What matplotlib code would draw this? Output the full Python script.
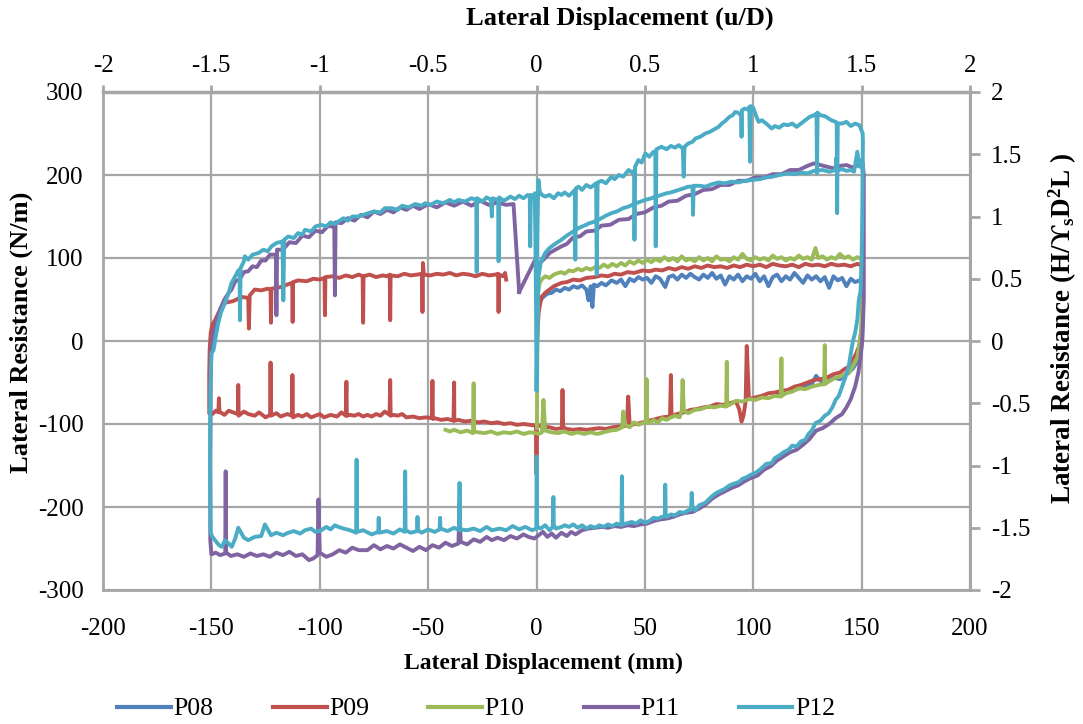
import numpy as np
import matplotlib
matplotlib.use("Agg")
import matplotlib.pyplot as plt
from matplotlib.lines import Line2D
from matplotlib.ticker import FuncFormatter

plt.rcParams['font.family'] = ['Liberation Serif', 'DejaVu Serif']
plt.rcParams['axes.unicode_minus'] = False
plt.rcParams['mathtext.fontset'] = 'custom'
plt.rcParams['mathtext.rm'] = 'Liberation Serif:bold'
plt.rcParams['mathtext.it'] = 'Liberation Serif:bold'

# (displacement mm, resistance N/m), branch by branch
p08_load = [(0.2, 0), (0.5, 30), (1, 42), (2, 50), (3.5, 54), (5, 57), (7, 58), (9, 62), (11, 60), (13, 64),
            (15, 62), (17, 66), (19, 64), (21, 67), (23, 62), (24, 49), (25, 66), (25.8, 41), (26.5, 68),
            (28, 66), (30, 70), (32, 67), (34.6, 73), (37, 70), (39, 74), (41, 66), (43, 75), (45, 72),
            (47, 77), (49, 74), (51, 76), (53, 70), (55, 78), (57, 75), (59.4, 65), (61, 77), (63, 79),
            (65, 74), (67, 80), (69, 76), (71, 81), (73, 77), (75, 74), (77, 80), (79, 76), (81, 82),
            (83, 75), (85, 79), (87, 68), (89, 78), (91, 74), (93, 80), (95, 72), (97, 78), (99, 75),
            (101, 81), (103, 72), (105, 78), (107, 66), (109, 77), (111, 80), (113, 72), (115, 78),
            (117, 74), (119, 82), (121, 76), (123, 70), (125, 79), (127, 74), (129, 78), (131, 72),
            (133, 77), (135, 64), (137, 78), (139, 73), (141, 76), (143, 66), (145, 75), (147, 71),
            (149, 73), (150, 70)]
p08_unload = [(150.5, 40), (150.3, 0), (149.5, -15), (148, -25), (146, -33), (144, -38), (142, -42),
              (140, -46), (137, -44), (134, -50), (131, -48), (129, -42), (127, -52), (124, -55),
              (120, -58), (115, -62), (110, -64)]

p09_load = [(0.3, 0), (1, 35), (2.3, 53), (4, 58), (5.5, 61), (8, 66), (11.5, 70), (14, 71), (17, 74),
            (20, 73), (23, 76), (27, 77), (30, 79), (33, 78), (36, 81), (39, 80), (42, 83), (45, 82),
            (49, 85), (52, 84), (55, 86), (58, 85), (61, 88), (64, 86), (67, 89), (70, 87), (73, 90),
            (76, 88), (79, 91), (82, 89), (85, 90), (88, 88), (91, 91), (94, 89), (97, 92), (100, 90),
            (103, 92), (106, 89), (109, 93), (112, 91), (115, 90), (118, 92), (121, 89), (124, 93),
            (127, 91), (130, 92), (133, 90), (136, 93), (139, 91), (142, 92), (145, 90), (148, 93),
            (150, 91)]
p09_unload = [(150.6, 60), (150.2, 20), (149, -5), (147.5, -15), (146, -22), (144, -31), (142, -34),
              (140, -38), (137, -40), (134, -44), (131, -46), (128, -47), (125, -50), (122, -53),
              (119, -55), (116, -59), (113, -60), (110, -62), (107, -63), (104, -66), (101, -68),
              (98, -70), (97, -6), (96.5, -72), (95.5, -90), (94.6, -97), (93.5, -82), (92, -73),
              (89, -75), (86, -77), (83, -76), (80, -79), (77, -80), (74, -82), (71, -83), (68, -86),
              (65, -88), (62.3, -90), (62, -41), (61.6, -91), (58, -92), (55, -94), (52, -96),
              (49, -98), (46, -100), (43, -101), (42.3, -67), (41.7, -102), (38, -103), (35, -104),
              (32, -106), (29, -105), (26, -106), (23, -107), (20, -106), (17, -107), (14, -106),
              (12.3, -104), (12, -59), (11.7, -105), (9, -106), (6, -104), (3, -103), (1, -102),
              (0.3, -101), (0, -160), (-0.3, -102), (-3, -101), (-6, -100), (-9, -101), (-12, -99),
              (-15, -100), (-18, -98), (-21, -99), (-24, -97), (-27, -98), (-30, -96), (-33, -97),
              (-36, -95), (-37.9, -96), (-38, -50), (-38.3, -96), (-41, -94), (-44, -95), (-47, -93),
              (-47.8, -94), (-48, -48), (-48.3, -93), (-51, -92), (-54, -93), (-57, -91), (-60, -92),
              (-62, -88), (-64, -90), (-66, -89), (-67.3, -90), (-67.5, -47), (-67.8, -89), (-70, -85),
              (-72, -90), (-74, -88), (-76, -91), (-78, -89), (-80, -91), (-82, -88), (-84, -90),
              (-86, -89), (-87.5, -90), (-87.7, -49), (-88, -90), (-90, -86), (-92, -91), (-95, -89),
              (-98, -92), (-100, -88), (-102, -90), (-104, -92), (-106, -88), (-108, -91), (-110, -89),
              (-112.4, -92), (-112.6, -41), (-112.8, -90), (-115, -88), (-118, -91), (-120, -87),
              (-122.5, -90), (-122.7, -26), (-122.9, -89), (-125, -92), (-128, -86), (-130, -90),
              (-133, -88), (-135, -85), (-137.4, -90), (-137.6, -53), (-137.8, -88), (-140, -86),
              (-142, -84), (-144, -89), (-146.3, -85), (-146.5, -69), (-146.8, -86), (-148, -84),
              (-149.5, -88), (-151, -87)]
p09_reload = [(-151, -40), (-150.8, -11), (-150.3, 10), (-149.5, 20), (-148.3, 25), (-146.5, 35),
              (-145.4, 40), (-144, 46), (-140, 48), (-136, 53), (-133, 52), (-132.7, 15), (-132.3, 55),
              (-130, 62), (-127, 61), (-124, 63), (-122.7, 62), (-122.5, 22), (-122.3, 63), (-120, 64),
              (-118, 65), (-115, 68), (-112.7, 70), (-112.5, 23), (-112.3, 71), (-110, 73), (-106, 72),
              (-103, 75), (-100, 74), (-97.8, 76), (-97.6, 31), (-97.4, 77), (-94, 78), (-91, 76),
              (-88, 79), (-85, 77), (-82, 80), (-80.2, 78), (-80, 22), (-79.8, 78), (-77, 80), (-74, 77),
              (-71, 79), (-69, 78), (-67.7, 80), (-67.5, 25), (-67.3, 79), (-64, 78), (-61, 81),
              (-58, 79), (-55, 80), (-52.8, 81), (-52.6, 35), (-52.4, 94), (-52, 80), (-49, 79),
              (-46, 81), (-43, 80), (-40, 82), (-37, 79), (-34, 81), (-31, 80), (-28, 78), (-25, 81),
              (-22, 79), (-19, 80), (-17.7, 81), (-17.5, 35), (-17.3, 80), (-15.5, 78), (-14.5, 82),
              (-14, 74)]

p10_load = [(0.2, -105), (0.3, -40), (0.5, 20), (0.8, 60), (1.5, 70), (2.3, 74), (4, 78), (6, 76),
            (8, 80), (10, 82), (11.5, 83), (13, 81), (15, 85), (17, 84), (19, 87), (21, 85), (23, 88),
            (25, 86), (27, 89), (29, 88), (31, 92), (33, 89), (35, 93), (37, 90), (39, 94), (41, 91),
            (43, 96), (45, 93), (47, 97), (49, 94), (51, 98), (53, 95), (55, 99), (57, 96), (59, 101),
            (61, 97), (63, 100), (65, 96), (67, 102), (69, 97), (71, 99), (73, 96), (75, 101), (77, 97),
            (79, 100), (81, 96), (83, 102), (85, 98), (87, 99), (89, 96), (91, 101), (93, 98),
            (95, 105), (97, 99), (99, 97), (101, 101), (103, 98), (105, 100), (107, 97), (109, 103),
            (111, 99), (113, 101), (115, 97), (117, 100), (119, 98), (121, 103), (123, 99), (125, 101),
            (127, 98), (128.7, 112), (130, 100), (132, 102), (134, 98), (136, 101), (138, 99),
            (140, 105), (142, 100), (144, 102), (146, 98), (148, 101), (150, 99)]
p10_unload = [(150.5, 80), (150.3, 40), (149.5, 5), (148, -20), (146, -30), (144, -39), (142, -40),
              (140, -43), (138, -44), (136, -47), (134, -50), (133.2, -52), (133, -5), (132.7, -52),
              (130, -53), (127, -55), (124, -58), (121, -57), (118, -61), (115, -63), (113.2, -66),
              (113, -21), (112.7, -67), (110, -66), (107, -69), (104, -68), (101, -71), (98, -70),
              (95, -73), (92, -72), (89, -77), (88, -78), (87.8, -25), (87.5, -79), (85, -78), (82, -80),
              (79, -79), (76, -82), (73, -83), (70, -87), (68, -84), (67.4, -47), (67, -85), (66, -92),
              (64, -90), (62, -92), (60, -95), (58, -93), (56, -98), (54, -95), (52, -99), (51, -96),
              (50.8, -46), (50.5, -97), (49, -99), (47, -101), (45, -98), (43, -104), (41, -101),
              (40, -85), (39.5, -104), (37, -107), (34, -108), (31, -110), (28, -112), (25, -110),
              (22, -112), (19, -110), (16, -112), (13, -109), (10, -111), (7, -110), (4, -108),
              (3.2, -71), (2.5, -110), (1, -112), (0, -111), (-3, -110), (-6, -112), (-9, -109),
              (-12, -111), (-15, -110), (-18, -112), (-21, -109), (-24, -111), (-27, -110),
              (-28.8, -109), (-29, -51), (-29.3, -111), (-32, -108), (-35, -110), (-38, -107),
              (-40, -109), (-42, -107)]

p11_load = [(-8, 59), (-4, 80), (-0.6, 98), (1, 92), (2, 95), (4, 100), (6, 106), (8, 109), (11.5, 114),
            (14, 117), (17, 125), (20, 126), (23, 132), (27, 133), (30, 139), (34, 140), (38, 146),
            (42.5, 147), (46, 153), (50, 155), (54, 161), (57.7, 163), (61, 168), (65, 169), (69, 175),
            (73, 177), (77, 182), (81, 183), (85, 188), (89, 188), (93, 193), (97, 193), (101, 197),
            (105, 197), (109, 201), (113, 201), (117, 206), (121, 206), (125, 211), (128, 214),
            (131, 212), (134, 210), (137, 208), (140, 211), (143, 212), (146, 209), (149, 213),
            (150.5, 215)]
p11_unload = [(151, 200), (151, 100), (151, 50), (150.6, 20), (150.2, 0), (149.5, -20), (148.5, -38),
              (147, -55), (145, -70), (143, -80), (141, -88), (138, -93), (135, -100), (132, -105),
              (129, -108), (126, -118), (123, -125), (120, -131), (117, -134), (114, -139), (111, -144),
              (108, -151), (105, -155), (102, -162), (99, -165), (96, -169), (93, -174), (90, -177),
              (87, -181), (84, -185), (81, -190), (78, -197), (75, -202), (72, -206), (69, -207),
              (66, -209), (63, -212), (60, -214), (57, -215), (54, -217), (51, -220), (48, -221),
              (45, -223), (42, -222), (39, -224), (36, -223), (33, -225), (30, -224), (27, -225),
              (24, -226), (21, -228), (18, -233), (16, -230), (14, -235), (11.5, -231), (9, -237),
              (7, -232), (5, -236), (3, -230), (1, -234), (-1, -238), (-3.7, -236), (-6, -233),
              (-9, -238), (-12, -235), (-15, -240), (-18, -237), (-20.6, -240), (-23, -236),
              (-26, -242), (-29, -239), (-32, -245), (-35, -242), (-35.5, -195), (-36, -244),
              (-39, -247), (-42, -243), (-45, -249), (-48, -246), (-51, -252), (-54, -248), (-57, -253),
              (-60, -249), (-63, -245), (-66, -250), (-69, -247), (-72, -251), (-75, -246), (-78, -252),
              (-82, -252), (-85, -249), (-88, -255), (-91, -252), (-94, -257), (-97, -260),
              (-100, -255), (-100.6, -191), (-101, -258), (-103, -262), (-105, -264), (-108, -257),
              (-111, -259), (-114, -254), (-117, -258), (-120, -255), (-123, -260), (-126, -257),
              (-129, -259), (-132, -256), (-135, -260), (-138, -257), (-141, -259), (-143.2, -255),
              (-143.4, -157), (-143.6, -256), (-146, -258), (-148, -255), (-150, -257), (-150.5, -240)]
p11_reload = [(-150.5, -150), (-150.3, -50), (-150, -10), (-149, 10), (-147.5, 25), (-146, 38),
              (-144, 50), (-142, 58), (-140.7, 62), (-139, 72), (-137, 74), (-135, 83), (-133, 84),
              (-131, 90), (-129, 89), (-127, 97), (-125, 97), (-123, 104), (-120.2, 104), (-120, 31),
              (-119.7, 110), (-117, 110), (-114, 119), (-111, 118), (-108, 127), (-105, 125),
              (-102, 133), (-99, 131), (-96, 139), (-93.3, 137), (-93, 55), (-92.7, 143), (-90, 142),
              (-87, 148), (-84, 145), (-81, 152), (-78, 149), (-75, 156), (-72, 153), (-69, 158),
              (-66, 155), (-63, 161), (-60, 158), (-57, 163), (-54, 159), (-50, 165), (-46, 161),
              (-42, 167), (-38, 163), (-34, 168), (-30, 163), (-26, 169), (-22, 164), (-18, 167),
              (-14, 164), (-10.6, 165), (-8, 59)]

p12_load1 = [(0.2, 0), (0.4, 120), (0.7, 175), (0.9, 194), (1.5, 180), (2.5, 176), (4, 174), (6, 176),
             (8, 172), (10, 178), (11.5, 176), (13, 179), (15, 175), (17, 180), (17.7, 182), (17.9, 98),
             (18.2, 184), (19.4, 186), (21, 182), (23, 188), (25, 185), (27.5, 190), (27.8, 80),
             (28.2, 191), (30, 193), (32, 190), (34.6, 198), (36, 195), (38, 200), (40, 198),
             (42.5, 206), (44, 203), (45, 205), (45.2, 122), (45.5, 210), (47, 218), (48.5, 215),
             (50.2, 226), (52, 222), (54, 228), (54.8, 227), (55, 114), (55.3, 231), (57.7, 234),
             (60, 231), (62, 235), (64, 233), (65.6, 236), (67.5, 232), (67.9, 198), (68.3, 234),
             (70, 238), (72, 240), (73.3, 244), (75.5, 246), (77.9, 250), (80, 252), (82, 255),
             (84, 258), (85.5, 262), (87, 265), (89, 270), (90.5, 272), (91.7, 276), (93, 275),
             (94.4, 272), (94.6, 246), (94.8, 278), (96, 280), (97.5, 279), (98.2, 282), (98.5, 216),
             (98.8, 283), (100, 281), (101.5, 270), (102.5, 264), (104, 266), (106, 262), (108.5, 256),
             (110, 259), (112, 257), (114, 261), (116, 260), (118, 262), (120, 258), (122, 262),
             (124, 266), (126, 270), (128, 272), (129.2, 274), (129.4, 202), (129.7, 275), (131, 272),
             (133, 271), (134.8, 268), (136, 266), (138, 264), (138.5, 263), (138.7, 154), (139, 262),
             (141, 262), (143, 264), (145, 259), (147, 262), (149, 260), (150.5, 250)]
p12_unload = [(150.6, 240), (150.5, 210), (150.3, 150), (150, 100), (149.5, 60), (148.7, 49), (148, 25),
              (147, 10), (146, 0), (145, -15), (144, -31), (143, -40), (141, -55), (139.5, -66),
              (138, -71), (136.5, -80), (134.8, -87), (133, -90), (131, -96), (128.7, -99), (127, -108),
              (125.5, -112), (124, -119), (122, -121), (120, -127), (118, -126), (116.3, -131),
              (114, -134), (112, -138), (110, -141), (108.5, -147), (106, -148), (104, -153),
              (101, -159), (99, -161), (97, -164), (95, -166), (93.3, -170), (91, -172), (89, -174),
              (87, -178), (85.4, -180), (83, -183), (81, -187), (79, -192), (77.9, -195), (75, -198),
              (73.3, -204), (72, -201), (71.6, -183), (71.3, -203), (70, -204), (68, -207), (66, -206),
              (64, -210), (62, -209), (60, -212), (59.6, -210), (59.4, -173), (59.2, -211),
              (57.7, -212), (56, -214), (54, -213), (52, -217), (50, -219), (48, -216), (46, -220),
              (44, -218), (42.5, -219), (40, -221), (39.6, -219), (39.4, -163), (39.2, -222),
              (37, -220), (35, -223), (33, -221), (31, -224), (29, -222), (27, -225), (25, -223),
              (23, -226), (21, -222), (19, -225), (17, -221), (15, -224), (13, -222), (11.5, -224),
              (9, -226), (8, -222), (7.8, -188), (7.5, -224), (6, -228), (4, -222), (2, -226),
              (0.3, -224), (0.1, -139), (-0.1, -226), (-2, -228), (-5.2, -224), (-8, -227),
              (-11, -223), (-14, -228), (-17, -226), (-20.6, -228), (-23, -224), (-26, -229),
              (-29, -226), (-32, -228), (-35.3, -227), (-35.5, -171), (-35.7, -228), (-38, -225),
              (-41, -229), (-44.3, -226), (-44.5, -213), (-44.7, -227), (-47, -230), (-50, -227),
              (-53, -231), (-54.7, -228), (-54.9, -212), (-55.1, -229), (-58, -231), (-60.4, -228),
              (-60.6, -157), (-60.8, -230), (-63, -227), (-66, -232), (-69, -229), (-72.6, -231),
              (-72.8, -213), (-73, -230), (-76, -233), (-77.6, -231), (-80, -228), (-82.8, -230),
              (-83, -143), (-83.2, -231), (-86, -228), (-89, -226), (-91.4, -224), (-93, -222),
              (-95, -227), (-97, -224), (-99.3, -228), (-102, -230), (-104, -226), (-106.8, -228),
              (-109, -232), (-112, -229), (-114.5, -231), (-117, -234), (-120, -231), (-122.5, -234),
              (-125.3, -221), (-127, -235), (-130, -236), (-133, -240), (-135, -237), (-137.6, -225),
              (-139, -238), (-140.6, -248), (-142, -244), (-143.7, -240), (-145.2, -248),
              (-146.5, -246), (-148.3, -240), (-149.5, -236), (-150.3, -231)]
p12_reload = [(-150.6, -150), (-150.5, -60), (-150, -15), (-149, -11), (-148, 5), (-146.8, 22),
              (-145.5, 35), (-143.7, 46), (-142, 58), (-140.7, 70), (-139, 78), (-137.8, 84), (-137, 86),
              (-136.8, 25), (-136.5, 88), (-135, 96), (-134.6, 102), (-133, 98), (-131, 104),
              (-128.3, 106), (-126, 110), (-124, 108), (-122.3, 114), (-120, 118), (-117.2, 120),
              (-116.8, 49), (-116.4, 122), (-114.5, 126), (-112, 124), (-110, 130), (-108, 128),
              (-106.8, 134), (-104, 132), (-102, 138), (-99.3, 140), (-97, 138), (-95, 143), (-93, 141),
              (-91.4, 144), (-89, 148), (-87, 145), (-85, 150), (-82, 150), (-80, 152), (-77.6, 154),
              (-75, 156), (-72, 155), (-70, 160), (-66.8, 160), (-64, 158), (-62, 163), (-59, 161),
              (-56, 165), (-53, 163), (-51.4, 166), (-49, 164), (-46, 168), (-43, 166), (-40, 170),
              (-38, 167), (-36, 170), (-33, 168), (-30, 172), (-27.8, 170), (-27.6, 83), (-27.4, 172),
              (-25, 168), (-23, 173), (-21, 170), (-20.6, 150), (-20.3, 172), (-18, 170), (-17.7, 171),
              (-17.5, 96), (-17.2, 173), (-15, 169), (-12, 174), (-10, 171), (-8, 175), (-6, 172),
              (-4, 176), (-3.1, 174), (-2.9, 114), (-2.6, 176), (-1.5, 173), (-0.8, 178)]
p12_load2 = [(-0.5, 120), (-0.2, 40), (0, -60), (0.3, -10), (0.6, 40), (0.9, 77), (2, 95), (4, 106),
             (6, 112), (8, 116), (11.5, 122), (14, 127), (17, 132), (19.4, 136), (22, 139), (24.5, 142),
             (27, 144), (30, 148), (32, 151), (34.6, 154), (37, 156), (40, 160), (42.5, 162), (45, 165),
             (47, 167), (50.2, 170), (53, 172), (55, 174), (57.7, 176), (60, 178), (62, 179),
             (65.6, 182), (68, 184), (70, 186), (72, 186), (72.2, 152), (72.5, 187), (75, 187),
             (78, 186), (81, 189), (84, 191), (87, 190), (90, 192), (93, 191), (96, 193), (99.7, 194),
             (103, 195), (106, 197), (109, 198), (112, 200), (116, 202), (119, 201), (122, 203),
             (125, 202), (128, 205), (132, 206), (135, 204), (138, 206), (138.2, 220), (138.5, 205),
             (141, 207), (143, 205), (145, 206), (146.5, 204), (148, 228), (149, 210), (150, 218),
             (150.5, 205)]

names = ['P08', 'P09', 'P10', 'P11', 'P12']
colors = ['#4F81BD', '#C0504D', '#9BBB59', '#8064A2', '#4BACC6']
branches = [
    [p08_load, p08_unload],
    [p09_load, p09_unload, p09_reload],
    [p10_load, p10_unload],
    [p11_load, p11_unload, p11_reload],
    [p12_load1, p12_unload, p12_reload, p12_load2],
]

grid_col = '#A6A6A6'

fig = plt.figure(figsize=(10.83, 7.24), dpi=100)
ax = fig.add_axes([103 / 1083, 1 - 590 / 724, (970 - 103) / 1083, (590 - 92) / 724])

for name, col, parts in zip(names, colors, branches):
    pts = np.array([p for part in parts for p in part])
    ax.plot(pts[:, 0], pts[:, 1], color=col, lw=2.8, solid_joinstyle='round', label=name)

ax.set_xlim(-200, 200)
ax.set_ylim(-300, 300)
ax.set_xticks(np.arange(-200, 201, 50))
ax.set_yticks(np.arange(-300, 301, 100))
ax.grid(True, color=grid_col, lw=1.6)
ax.set_axisbelow(True)
ax.tick_params(axis='both', length=0, labelsize=18, pad=14)
ax.tick_params(axis='x', pad=20)
for s in ax.spines.values():
    s.set_color(grid_col)
    s.set_linewidth(2)

fmt = FuncFormatter(lambda v, p: '%g' % v)

top = ax.secondary_xaxis('top', functions=(lambda x: x / 100, lambda x: x * 100))
top.set_xticks(np.arange(-2, 2.01, 0.5))
top.xaxis.set_major_formatter(fmt)
top.tick_params(direction='out', length=5, width=2, color=grid_col, labelsize=18, pad=6)
top.spines['top'].set_color(grid_col)
top.spines['top'].set_linewidth(2.5)

right = ax.secondary_yaxis('right', functions=(lambda y: y / 150, lambda y: y * 150))
right.set_yticks(np.arange(-2, 2.01, 0.5))
right.yaxis.set_major_formatter(fmt)
right.tick_params(direction='out', length=7, width=2, color=grid_col, labelsize=18, pad=8)
right.spines['right'].set_color(grid_col)
right.spines['right'].set_linewidth(2)

fig.text(620 / 1083, 1 - 18 / 724, 'Lateral Displacement (u/D)', ha='center', va='center',
         fontsize=19, fontweight='bold')
fig.text(543 / 1083, 1 - 663 / 724, 'Lateral Displacement (mm)', ha='center', va='center',
         fontsize=17, fontweight='bold')
fig.text(21 / 1083, 1 - 332 / 724, 'Lateral Resistance (N/m)', ha='center', va='center',
         rotation=90, fontsize=19, fontweight='bold')
fig.text(1063 / 1083, 1 - 328 / 724, r'Lateral Resistance (H/ϒ$_\mathrm{s}$D$^\mathrm{2}$L )',
         ha='center', va='center', rotation=90, fontsize=19.5, fontweight='bold')

handles = [Line2D([], [], color=c, lw=3) for c in colors]
fig.legend(handles, names, loc='center left', bbox_to_anchor=(117 / 1083, 1 - 709 / 724), ncol=5,
           frameon=False, fontsize=18.5, handlelength=2.1, handletextpad=0.1, columnspacing=2.3,
           borderaxespad=0, borderpad=0)

fig.savefig('out.png', dpi=100)
